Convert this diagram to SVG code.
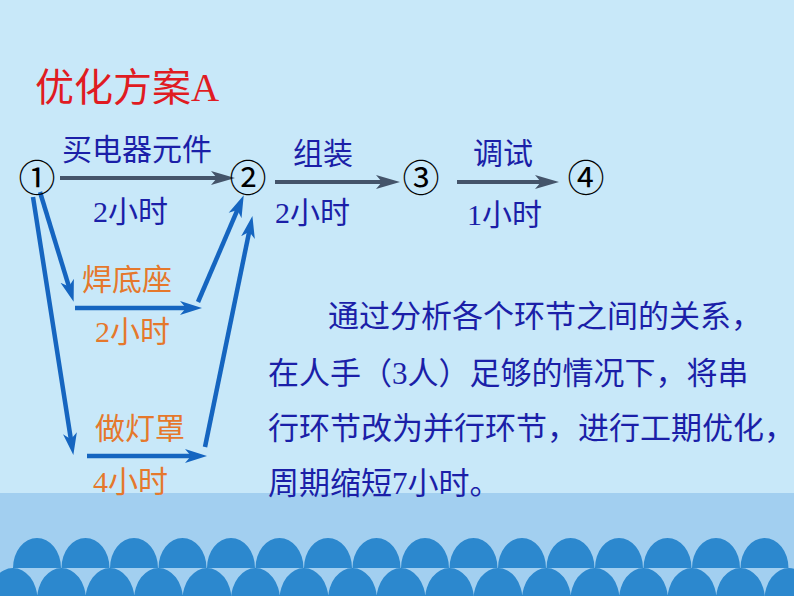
<svg xmlns="http://www.w3.org/2000/svg" width="794" height="596" viewBox="0 0 794 596">
<defs>
<style>
.cjk{font-family:"Noto Sans CJK SC","Noto Sans",sans-serif;}
.num{font-family:"Liberation Serif","Times New Roman",serif;}
.lbl{font-size:30px;}
.blue{fill:#1B1FA8;}
.orange{fill:#E5782C;}
.para{font-size:31px;fill:#1B1FA8;}
.node{font-family:"Noto Sans CJK SC","DejaVu Sans",sans-serif;font-size:37px;fill:#000;text-anchor:middle;}
.dark{stroke:#44546A;stroke-width:4;fill:none;marker-end:url(#hd);}
.bl{stroke:#1565C0;stroke-width:4.5;fill:none;marker-end:url(#hb);}
.sc{fill:#2C88CE;}
</style>
<marker id="hd" markerUnits="userSpaceOnUse" markerWidth="24" markerHeight="16" refX="13" refY="7" orient="auto" viewBox="0 0 24 14">
<path d="M0,0 L24,7 L0,14 L6,7 Z" fill="#44546A"/>
</marker>
<marker id="hb" markerUnits="userSpaceOnUse" markerWidth="22" markerHeight="16" refX="12" refY="7" orient="auto" viewBox="0 0 22 14">
<path d="M0,0 L22,7 L0,14 L6,7 Z" fill="#1565C0"/>
</marker>
</defs>
<rect x="0" y="0" width="794" height="596" fill="#C8E8F9"/>
<rect x="0" y="493" width="794" height="103" fill="#A2CFF0"/>
<g id="scallops">
<path class="sc" d="M13,568 A24,30 0 0 1 61,568 Z M61.5,568 A24,30 0 0 1 109.5,568 Z M110,568 A24,30 0 0 1 158,568 Z M158.5,568 A24,30 0 0 1 206.5,568 Z M207,568 A24,30 0 0 1 255,568 Z M255.5,568 A24,30 0 0 1 303.5,568 Z M304,568 A24,30 0 0 1 352,568 Z M352.5,568 A24,30 0 0 1 400.5,568 Z M401,568 A24,30 0 0 1 449,568 Z M449.5,568 A24,30 0 0 1 497.5,568 Z M498,568 A24,30 0 0 1 546,568 Z M546.5,568 A24,30 0 0 1 594.5,568 Z M595,568 A24,30 0 0 1 643,568 Z M643.5,568 A24,30 0 0 1 691.5,568 Z M692,568 A24,30 0 0 1 740,568 Z M740.5,568 A24,30 0 0 1 788.5,568 Z"/>
<path class="sc" d="M-11.5,600 A24.5,32 0 0 1 37.5,600 Z M37,600 A24.5,32 0 0 1 86,600 Z M85.5,600 A24.5,32 0 0 1 134.5,600 Z M134,600 A24.5,32 0 0 1 183,600 Z M182.5,600 A24.5,32 0 0 1 231.5,600 Z M231,600 A24.5,32 0 0 1 280,600 Z M279.5,600 A24.5,32 0 0 1 328.5,600 Z M328,600 A24.5,32 0 0 1 377,600 Z M376.5,600 A24.5,32 0 0 1 425.5,600 Z M425,600 A24.5,32 0 0 1 474,600 Z M473.5,600 A24.5,32 0 0 1 522.5,600 Z M522,600 A24.5,32 0 0 1 571,600 Z M570.5,600 A24.5,32 0 0 1 619.5,600 Z M619,600 A24.5,32 0 0 1 668,600 Z M667.5,600 A24.5,32 0 0 1 716.5,600 Z M716,600 A24.5,32 0 0 1 765,600 Z M764.5,600 A24.5,32 0 0 1 813.5,600 Z"/>
</g>
<text x="35" y="101" class="cjk" font-size="39" fill="#E01B22">优化方案<tspan class="num">A</tspan></text>
<g id="connectors">
<line class="dark" x1="60" y1="178" x2="224" y2="178"/>
<line class="dark" x1="275" y1="182" x2="389" y2="182"/>
<line class="dark" x1="457" y1="182" x2="548" y2="182"/>
<line class="bl" x1="40" y1="192" x2="70.7" y2="292.3"/>
<line class="bl" x1="33" y1="197" x2="71.8" y2="445.1"/>
<line class="bl" x1="75" y1="308" x2="192" y2="308"/>
<line class="bl" x1="198" y1="302" x2="239.8" y2="204.4"/>
<line class="bl" x1="87" y1="456" x2="197" y2="456"/>
<line class="bl" x1="205" y1="447" x2="250.4" y2="225.8"/>
</g>
<g id="edge-labels">
<text x="62" y="160" class="cjk lbl blue">买电器元件</text>
<text x="93" y="222" class="cjk lbl blue"><tspan class="num">2</tspan>小时</text>
<text x="293" y="164" class="cjk lbl blue">组装</text>
<text x="275" y="223" class="cjk lbl blue"><tspan class="num">2</tspan>小时</text>
<text x="473" y="164" class="cjk lbl blue">调试</text>
<text x="467" y="225" class="cjk lbl blue"><tspan class="num">1</tspan>小时</text>
<text x="82" y="290" class="cjk lbl orange">焊底座</text>
<text x="95" y="342" class="cjk lbl orange"><tspan class="num">2</tspan>小时</text>
<text x="95" y="439" class="cjk lbl orange">做灯罩</text>
<text x="93" y="492" class="cjk lbl orange"><tspan class="num">4</tspan>小时</text>
</g>
<g id="n1"><text x="37" y="192" class="node">①</text></g>
<g id="n2"><text x="248" y="192" class="node">②</text></g>
<g id="n3"><text x="421" y="192" class="node">③</text></g>
<g id="n4"><text x="586" y="192" class="node">④</text></g>
<g id="paragraph" class="cjk para">
<text x="328" y="327">通过分析各个环节之间的关系，</text>
<text x="268" y="384">在人手（<tspan class="num">3</tspan>人）足够的情况下，将串</text>
<text x="268" y="439">行环节改为并行环节，进行工期优化，</text>
<text x="268" y="494">周期缩短<tspan class="num">7</tspan>小时。</text>
</g>
</svg>
